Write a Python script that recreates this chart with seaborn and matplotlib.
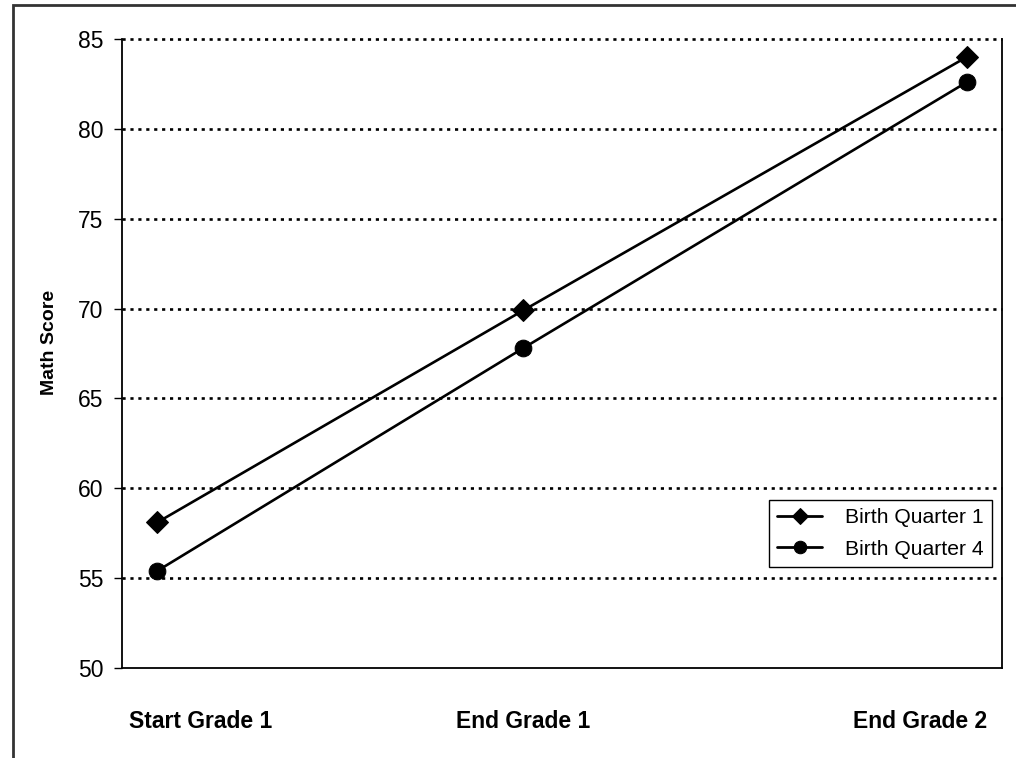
import numpy as np
import pandas as pd
import seaborn as sns
import matplotlib.pyplot as plt
from matplotlib.patches import Rectangle

# data
months = [1, 11.4, 24]
q1_scores = [58.1, 69.9, 84.0]
q4_scores = [55.4, 67.8, 82.6]
series_names = ["Birth Quarter 1", "Birth Quarter 4"]
grade_labels = ["Start Grade 1", "End Grade 1", "End Grade 2"]
label_pos = [2.24, 11.4, 22.67]

df = pd.DataFrame({
    "month": months * 2,
    "score": q1_scores + q4_scores,
    "group": [series_names[0]] * 3 + [series_names[1]] * 3,
})

sns.set_style("white")
plt.rcParams["font.family"] = ["Liberation Sans", "DejaVu Sans"]
plt.rcParams["text.color"] = "black"
plt.rcParams["xtick.color"] = "black"
plt.rcParams["ytick.color"] = "black"
plt.rcParams["axes.labelcolor"] = "black"

fig = plt.figure(figsize=(10.16, 7.58), dpi=100)
ax = fig.add_axes([122 / 1016, 1 - 668 / 758, 880 / 1016, 629 / 758])

sns.lineplot(data=df, x="month", y="score", hue="group", style="group",
             palette=["black", "black"], markers={series_names[0]: "D", series_names[1]: "o"},
             dashes=False, linewidth=1.9, markersize=10, markeredgecolor="black",
             ax=ax)
for line, ms in zip(ax.get_lines()[:2], [11, 12]):
    line.set_markersize(ms)

ax.set_xlim(0, 25)
ax.set_ylim(50, 85)
ax.set_yticks(np.arange(50, 86, 5))
for y in np.arange(55, 86, 5):
    ax.axhline(y, color="black", linestyle=(0, (1.2, 1.8)), linewidth=1.9,
               zorder=0, clip_on=False)

ax.set_xticks(label_pos)
ax.set_xticklabels(grade_labels, fontsize=16.5, fontweight="bold")
ax.tick_params(axis="x", length=0, pad=30)
ax.tick_params(axis="y", labelsize=16.5, length=5.5, width=1, direction="out", left=True, pad=8)

ax.set_xlabel("")
ax.set_ylabel("Math Score", fontsize=14, fontweight="bold")
ax.yaxis.set_label_coords(-0.073, 0.517)

for side in ["left", "bottom", "right"]:
    ax.spines[side].set_color("black")
    ax.spines[side].set_linewidth(1.3)
ax.spines["top"].set_visible(False)

handles, labels = ax.get_legend_handles_labels()
leg = ax.legend(handles, labels, loc="lower right", bbox_to_anchor=(0.9886, 0.1606),
                borderaxespad=0, fontsize=15.2, frameon=True, fancybox=False,
                edgecolor="black", framealpha=1, handlelength=2.1, handletextpad=1.1,
                labelspacing=0.58, borderpad=0.4)
leg.get_frame().set_linewidth(1)
for h, ms in zip(leg.legend_handles, [8, 9]):
    h.set_linewidth(2)
    h.set_markersize(ms)

# outer frame of the original figure (only top and left edges show)
fig.patches.append(Rectangle((13 / 1016, -0.5), 2, 1.5 - 5 / 758,
                             transform=fig.transFigure, fill=False,
                             edgecolor="#333333", linewidth=2))

fig.savefig("out.png", dpi=100)
